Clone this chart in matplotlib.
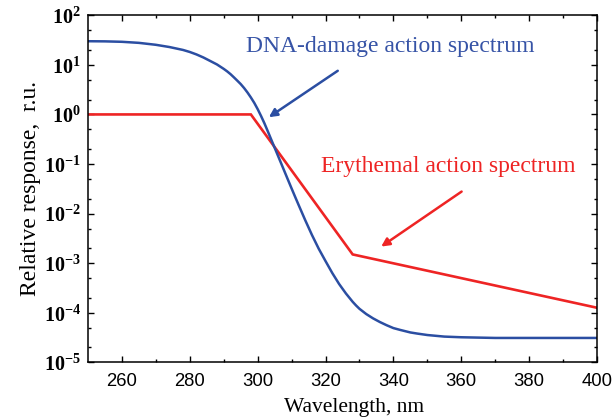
import math
import matplotlib
matplotlib.use("Agg")
import matplotlib.pyplot as plt
from matplotlib.ticker import FixedLocator, LogLocator, FuncFormatter, NullFormatter

plt.rcParams['mathtext.fontset'] = 'custom'
plt.rcParams['mathtext.rm'] = 'Liberation Serif'
plt.rcParams['mathtext.bf'] = 'Liberation Serif:bold'

# Erythemal action spectrum (piecewise, log-linear segments)
ery_wl = [250, 298, 328, 400]
ery_val = [1.0, 1.0, 1.5e-3, 1.26e-4]

# DNA-damage action spectrum
dna_wl = [250, 255, 260, 265, 270, 274, 278, 280, 282, 284, 286, 288, 289, 290,
          291, 292, 293, 294, 295, 296, 297, 298, 299, 300, 301, 302, 303, 304,
          305, 306, 307, 308, 309, 310, 311, 312, 314, 316, 318, 320, 322, 324,
          326, 328, 329, 330, 332, 334, 336, 338, 340, 342, 345, 347, 350, 355,
          360, 370, 380, 390, 400]
dna_val = [30.0, 29.8, 29.2, 27.8, 25.4, 22.9, 20.0, 18.2, 16.2, 14.1, 12.0, 10.2, 9.2, 8.3,
           7.4, 6.5, 5.6, 4.8, 4.1, 3.41, 2.77, 2.20, 1.71, 1.28, 0.93, 0.66, 0.455, 0.311,
           0.213, 0.146, 0.100, 0.0684, 0.0468, 0.0321, 0.0221, 0.0153, 7.4e-3, 3.7e-3,
           1.95e-3, 1.10e-3, 6.3e-4, 3.8e-4, 2.45e-4, 1.66e-4, 1.4e-4, 1.2e-4, 9.4e-5,
           7.7e-5, 6.5e-5, 5.6e-5, 4.9e-5, 4.5e-5, 4.0e-5, 3.8e-5, 3.55e-5, 3.3e-5,
           3.2e-5, 3.1e-5, 3.1e-5, 3.1e-5, 3.1e-5]

x_ticks = [260, 280, 300, 320, 340, 360, 380, 400]

BLUE = '#2b4ea2'
TEXT_BLUE = '#3653a6'
RED = '#ee2424'

fig = plt.figure(figsize=(6.16, 4.2), dpi=100)
ax = fig.add_axes([88 / 616, 1 - 362.3 / 420, (597 - 88) / 616, (362.3 - 15.3) / 420])

ax.plot(ery_wl, ery_val, color=RED, lw=1.9, solid_joinstyle='miter')
ax.plot(dna_wl, dna_val, color=BLUE, lw=1.8)

ax.set_yscale('log')
ax.set_xlim(250, 400)
ax.set_ylim(1e-5, 1e2)

ax.xaxis.set_major_locator(FixedLocator(x_ticks))
ax.xaxis.set_minor_locator(FixedLocator(list(range(270, 400, 20))))
ax.yaxis.set_major_locator(LogLocator(base=10, numticks=20))
ax.yaxis.set_minor_locator(LogLocator(base=10, subs=(2.0, 5.0), numticks=20))
ax.yaxis.set_minor_formatter(NullFormatter())
ax.yaxis.set_major_formatter(FuncFormatter(lambda v, p: r'$\mathbf{10^{%d}}$' % round(math.log10(v))))

ax.tick_params(which='both', direction='in', top=True, right=True, width=1.0)
ax.tick_params(which='major', length=4.5)
ax.tick_params(which='minor', length=2.5)
ax.tick_params(axis='x', labelsize=13.3, pad=8)
ax.tick_params(axis='y', labelsize=14.5, pad=5)
for lab in ax.get_xticklabels():
    lab.set_family('Liberation Sans')

for s in ax.spines.values():
    s.set_linewidth(1.1)

ax.set_xlabel('Wavelength, nm', family='Liberation Serif', fontsize=15.5)
ax.xaxis.set_label_coords(0.523, -0.104)
ax.set_ylabel('Relative response,  r.u.', family='Liberation Serif', fontsize=17, labelpad=2)

ax.annotate('', xy=(303.3, 0.88), xytext=(323.6, 7.6),
            arrowprops=dict(arrowstyle='-|>', color=BLUE, lw=1.8,
                            mutation_scale=12, shrinkA=0, shrinkB=0))
ax.text(339.0, 23, 'DNA-damage action spectrum', color=TEXT_BLUE, fontsize=17,
        family='Liberation Serif', ha='center', va='center')

ax.annotate('', xy=(336.4, 2.16e-3), xytext=(360.1, 2.78e-2),
            arrowprops=dict(arrowstyle='-|>', color=RED, lw=1.8,
                            mutation_scale=12, shrinkA=0, shrinkB=0))
ax.text(356.1, 0.089, 'Erythemal action spectrum', color=RED, fontsize=17,
        family='Liberation Serif', ha='center', va='center')

fig.savefig('out.png', dpi=100)
